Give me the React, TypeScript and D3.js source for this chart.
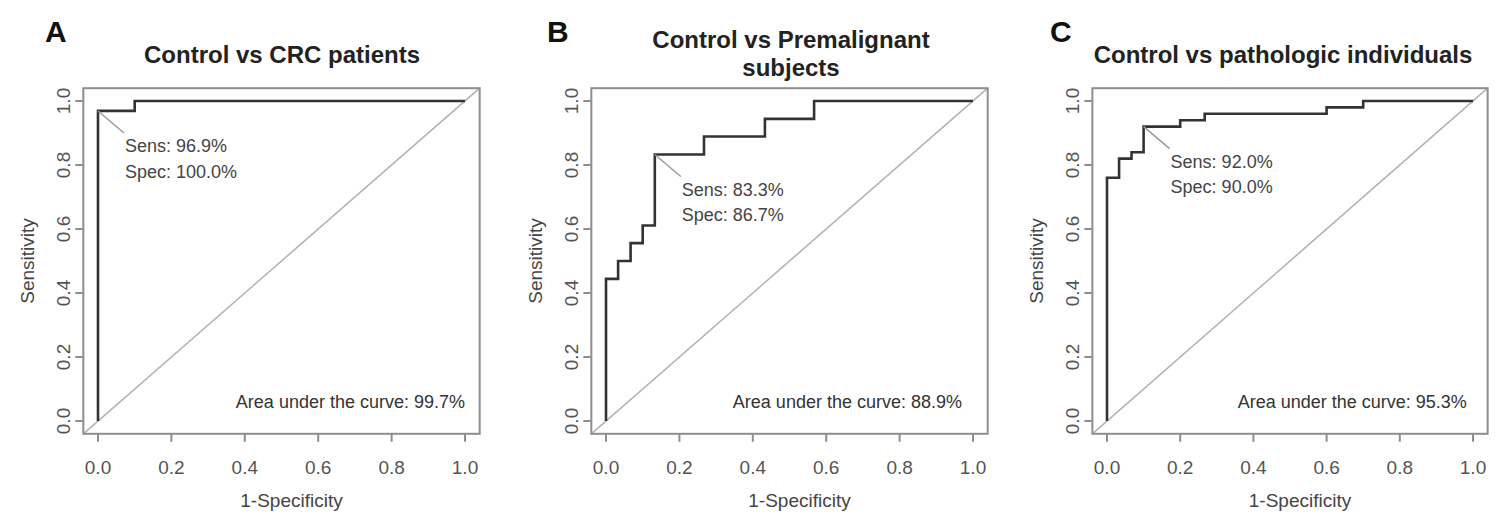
import React from "react";
import * as d3 from "d3";

// ---- Data ----
const panelLetters = ["A", "B", "C"];
const panelTitles = [
  ["Control vs CRC patients"],
  ["Control vs Premalignant", "subjects"],
  ["Control vs pathologic individuals"],
];

// ROC step corners (1 - specificity, sensitivity)
const fprA = [0, 0, 0.1, 1];
const tprA = [0, 0.969, 1, 1];

const fprB = [0, 0, 0.033, 0.067, 0.1, 0.133, 0.267, 0.433, 0.567, 1];
const tprB = [0, 0.444, 0.5, 0.556, 0.611, 0.833, 0.889, 0.944, 1, 1];

const fprC = [0, 0, 0.033, 0.067, 0.1, 0.2, 0.267, 0.6, 0.7, 1];
const tprC = [0, 0.76, 0.82, 0.84, 0.92, 0.94, 0.96, 0.98, 1, 1];

// best threshold point (1-spec, sens)
const thrFpr = [0, 0.133, 0.1];
const thrTpr = [0.969, 0.833, 0.92];
const sensLabels = ["Sens: 96.9%", "Sens: 83.3%", "Sens: 92.0%"];
const specLabels = ["Spec: 100.0%", "Spec: 86.7%", "Spec: 90.0%"];
const aucLabels = [
  "Area under the curve: 99.7%",
  "Area under the curve: 88.9%",
  "Area under the curve: 95.3%",
];

const tickValues = [0, 0.2, 0.4, 0.6, 0.8, 1.0];
const xAxisTitle = "1-Specificity";
const yAxisTitle = "Sensitivity";

// ---- Layout ----
const W = 1497;
const H = 517;
const panelX0 = [98, 606, 1107];
const panelX1 = [465, 973, 1473];
const yTop = 101;
const yBottom = 421;
const titleCx = [282, 791, 1283];
const letterX = [45, 547, 1050];
const aucAnchorX = [1.0, 0.97, 0.983];
const FONT = "'Liberation Sans', Arial, Helvetica, sans-serif";

const fprs = [fprA, fprB, fprC];
const tprs = [tprA, tprB, tprC];

function Panel({ i }: { i: number }) {
  const x = d3.scaleLinear().domain([0, 1]).range([panelX0[i], panelX1[i]]);
  const y = d3.scaleLinear().domain([0, 1]).range([yBottom, yTop]);
  const pts: [number, number][] = fprs[i].map((f, k) => [f, tprs[i][k]]);
  const line = d3
    .line<[number, number]>()
    .x((d) => x(d[0]))
    .y((d) => y(d[1]))
    .curve(d3.curveStepAfter);
  const bx0 = x(-0.04);
  const bx1 = x(1.04);
  const by0 = y(1.04);
  const by1 = y(-0.04);
  const fmt = d3.format(".1f");
  const px = x(thrFpr[i]);
  const py = y(thrTpr[i]);
  const plotCx = (x(0) + x(1)) / 2;
  const plotCy = (y(0) + y(1)) / 2;
  const yTickLabelX = bx0 - 20;
  const yTitleX = bx0 - 56;
  return (
    <g>
      {/* panel letter */}
      <text x={letterX[i]} y={42} fontFamily={FONT} fontWeight="bold" fontSize={30} fill="#111">
        {panelLetters[i]}
      </text>
      {/* title */}
      {panelTitles[i].length === 1 ? (
        <text x={titleCx[i]} y={63} textAnchor="middle" fontFamily={FONT} fontWeight="bold" fontSize={24} fill="#222">
          {panelTitles[i][0]}
        </text>
      ) : (
        panelTitles[i].map((t, k) => (
          <text key={k} x={titleCx[i]} y={48 + k * 28} textAnchor="middle" fontFamily={FONT} fontWeight="bold" fontSize={24} fill="#222">
            {t}
          </text>
        ))
      )}
      {/* diagonal */}
      <line x1={x(-0.04)} y1={y(-0.04)} x2={x(1.04)} y2={y(1.04)} stroke="#b4b4b4" strokeWidth={1.6} />
      {/* ROC curve */}
      <path d={line(pts) || ""} fill="none" stroke="#333" strokeWidth={2.6} />
      {/* box */}
      <rect x={bx0} y={by0} width={bx1 - bx0} height={by1 - by0} fill="none" stroke="#8e8e8e" strokeWidth={2} />
      {/* x axis */}
      {tickValues.map((t) => (
        <g key={"x" + t}>
          <line x1={x(t)} x2={x(t)} y1={by1} y2={by1 + 8} stroke="#8e8e8e" strokeWidth={2} />
          <text x={x(t)} y={474} textAnchor="middle" fontFamily={FONT} fontSize={19} fill="#555">
            {fmt(t)}
          </text>
        </g>
      ))}
      {/* y axis */}
      {tickValues.map((t) => (
        <g key={"y" + t}>
          <line x1={bx0 - 8} x2={bx0} y1={y(t)} y2={y(t)} stroke="#8e8e8e" strokeWidth={2} />
          <text
            transform={`translate(${yTickLabelX},${y(t)}) rotate(-90)`}
            dy="0.35em"
            textAnchor="middle"
            fontFamily={FONT}
            fontSize={19}
            fill="#555"
          >
            {fmt(t)}
          </text>
        </g>
      ))}
      <text x={plotCx + 10} y={507} textAnchor="middle" fontFamily={FONT} fontSize={19} fill="#444">
        {xAxisTitle}
      </text>
      <text
        transform={`translate(${yTitleX},${plotCy}) rotate(-90)`}
        dy="0.35em"
        textAnchor="middle"
        fontFamily={FONT}
        fontSize={19}
        fill="#444"
      >
        {yAxisTitle}
      </text>
      {/* threshold annotation */}
      <line x1={px} y1={py} x2={px + 26} y2={py + 22} stroke="#999" strokeWidth={1.4} />
      <text x={px + 27} y={py + 35} dy="0.35em" fontFamily={FONT} fontSize={18} fill="#444">
        {sensLabels[i]}
      </text>
      <text x={px + 27} y={py + 60.5} dy="0.35em" fontFamily={FONT} fontSize={18} fill="#444">
        {specLabels[i]}
      </text>
      {/* AUC */}
      <text x={x(aucAnchorX[i])} y={y(0.06)} dy="0.35em" textAnchor="end" fontFamily={FONT} fontSize={18} fill="#333">
        {aucLabels[i]}
      </text>
    </g>
  );
}

export default function App() {
  return (
    <svg
      width={W}
      height={H}
      viewBox={`0 0 ${W} ${H}`}
      style={{ position: "absolute", left: 0, top: 0, background: "#fff" }}
    >
      <rect x={0} y={0} width={W} height={H} fill="#fff" />
      {[0, 1, 2].map((i) => (
        <Panel key={i} i={i} />
      ))}
    </svg>
  );
}
